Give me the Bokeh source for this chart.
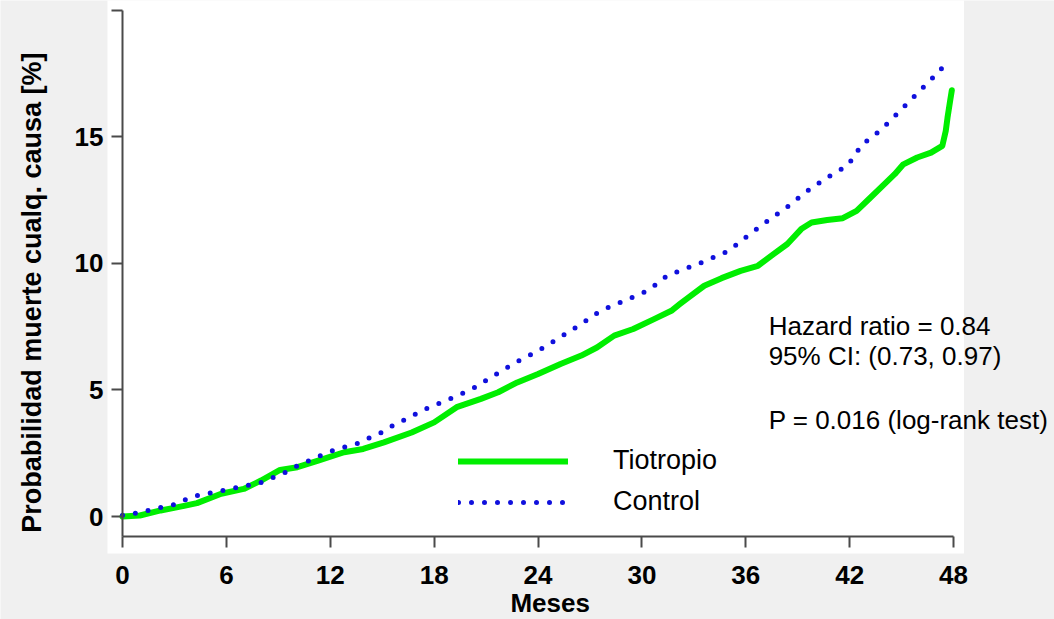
from bokeh.plotting import figure
from bokeh.models import Range1d, FixedTicker, Label, Legend, LegendItem, BoxAnnotation
from bokeh.embed import file_html
from bokeh.resources import INLINE

# ---- data ----
months_tio = [0.0, 1.0, 2.2, 3.2, 4.3, 5.7, 7.0, 8.0, 9.1, 10.1, 11.3, 12.8, 13.9, 15.1,
              16.7, 18.0, 19.3, 20.7, 21.7, 22.8, 24.0, 25.3, 26.5, 27.4, 28.4, 29.5,
              30.7, 31.7, 32.2, 32.7, 33.6, 34.6, 35.7, 36.7, 37.6, 38.4, 39.2, 39.8,
              40.7, 41.6, 42.4, 43.1, 43.9, 44.6, 45.1, 45.9, 46.7, 47.35, 47.55, 47.65,
              47.8, 47.9]
prob_tio = [0.0, 0.04, 0.24, 0.37, 0.53, 0.9, 1.09, 1.42, 1.84, 1.95, 2.21, 2.54, 2.67, 2.93,
            3.32, 3.72, 4.32, 4.65, 4.91, 5.3, 5.63, 6.03, 6.36, 6.68, 7.15, 7.41,
            7.8, 8.13, 8.4, 8.66, 9.12, 9.42, 9.71, 9.91, 10.37, 10.77, 11.36, 11.62,
            11.72, 11.79, 12.08, 12.54, 13.07, 13.53, 13.92, 14.19, 14.38, 14.65, 15.24, 15.76,
            16.42, 16.85]

months_ctl = [0.0, 0.75, 1.6, 2.4, 3.2, 3.9, 4.6, 5.5, 7.9, 9.3, 10.0, 11.3, 12.0, 12.8,
              13.6, 14.2, 14.9, 15.5, 16.2, 17.5, 18.9, 20.2, 21.5, 22.7, 24.0, 25.2,
              26.5, 27.6, 29.0, 30.4, 31.5, 32.2, 33.6, 35.0, 36.1, 37.2, 38.4, 39.5,
              40.7, 41.9, 42.7, 43.8, 44.8, 45.8, 46.8, 47.75]
prob_ctl = [0.05, 0.13, 0.26, 0.39, 0.5, 0.76, 0.87, 0.99, 1.32, 1.71, 1.97, 2.37, 2.57, 2.74,
            2.89, 3.09, 3.3, 3.55, 3.79, 4.25, 4.65, 5.04, 5.59, 6.09, 6.55, 7.05,
            7.61, 8.13, 8.53, 8.95, 9.54, 9.71, 10.08, 10.5, 11.09, 11.65, 12.24, 12.84,
            13.4, 13.88, 14.69, 15.28, 15.96, 16.65, 17.34, 18.03]

x_ticks = [0, 6, 12, 18, 24, 30, 36, 42, 48]
y_ticks = [0, 5, 10, 15, 20]
y_tick_labels = {20: ""}

series_names = ["Tiotropio", "Control"]
x_label = "Meses"
y_label = "Probabilidad muerte cualq. causa [%]"
stats_lines = ["Hazard ratio = 0.84", "95% CI: (0.73, 0.97)", "", "P = 0.016 (log-rank test)"]

FONT = "Liberation Sans"
AXIS_COLOR = "#4a4a4a"
X_AXIS_AT = -0.79   # where the month axis crosses the probability scale

p = figure(width=1054, height=619, output_backend="svg", toolbar_location=None,
           x_range=Range1d(-7.047, 53.83), y_range=Range1d(-4.071, 20.395),
           min_border=0, min_border_left=0, min_border_right=0,
           min_border_top=0, min_border_bottom=0)
p.border_fill_color = "#f0f0f0"
p.background_fill_color = "#f0f0f0"
p.outline_line_color = None
p.xgrid.visible = False
p.ygrid.visible = False

# white sheet behind the chart
p.add_layout(BoxAnnotation(left=-0.87, right=48.6, bottom=-1.46, top=21,
                           fill_color="white", fill_alpha=1.0, line_color=None,
                           level="underlay"))

for ax in (p.xaxis[0], p.yaxis[0]):
    ax.axis_line_color = AXIS_COLOR
    ax.axis_line_width = 2
    ax.major_tick_line_color = AXIS_COLOR
    ax.major_tick_line_width = 2
    ax.major_tick_out = 11
    ax.major_tick_in = 0
    ax.minor_tick_line_color = None
    ax.major_label_text_font = FONT
    ax.major_label_text_font_style = "bold"
    ax.major_label_text_font_size = "26px"
    ax.major_label_text_color = "black"

p.xaxis.fixed_location = X_AXIS_AT
p.xaxis.bounds = (0, 48)
p.yaxis.fixed_location = 0
p.yaxis.bounds = (X_AXIS_AT, 20)
p.xaxis.ticker = FixedTicker(ticks=x_ticks)
p.yaxis.ticker = FixedTicker(ticks=y_ticks)
p.yaxis.major_label_overrides = y_tick_labels
p.xaxis.major_label_standoff = 19
p.yaxis.major_label_standoff = 8

# axis titles
p.add_layout(Label(x=-5.25, y=8.85, text=y_label, angle=90, angle_units="deg",
                   text_align="center", text_baseline="middle",
                   text_font=FONT, text_font_style="bold", text_font_size="27px",
                   text_color="black"))
p.add_layout(Label(x=24.7, y=-3.42, text=x_label,
                   text_align="center", text_baseline="middle",
                   text_font=FONT, text_font_style="bold", text_font_size="26px",
                   text_color="black"))

r_tio = p.line(months_tio, prob_tio, line_color="#00ee00", line_width=6,
               line_join="round", line_cap="round")
r_ctl = p.line(months_ctl, prob_ctl, line_color="#1010dd", line_width=5,
               line_dash="0 13", line_cap="round")

legend = Legend(items=[LegendItem(label=series_names[0], renderers=[r_tio]),
                       LegendItem(label=series_names[1], renderers=[r_ctl])],
                location=(458, 102), orientation="vertical",
                glyph_width=110, glyph_height=30, label_height=30, label_standoff=45,
                spacing=10, padding=0, margin=0,
                border_line_color=None, background_fill_alpha=0,
                label_text_font=FONT, label_text_font_size="27px",
                label_text_color="black")
p.add_layout(legend, "center")

stat_y = [7.54, 6.36, 5.1, 3.8]
for txt, yy in zip(stats_lines, stat_y):
    if txt:
        p.add_layout(Label(x=37.32, y=yy, text=txt, text_align="left", text_baseline="middle",
                           text_font=FONT, text_font_size="26px", text_color="black"))

open("out.html", "w").write(file_html(p, INLINE))
